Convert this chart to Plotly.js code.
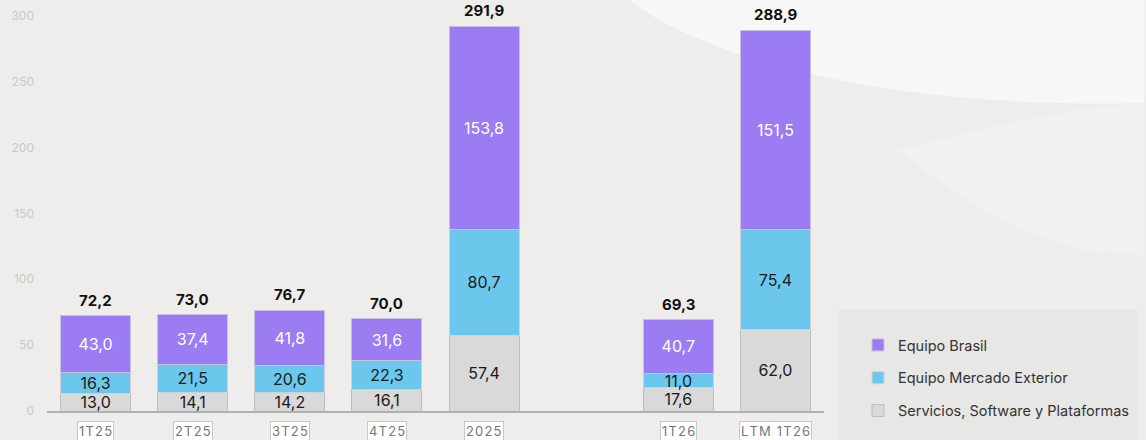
<!DOCTYPE html>
<html>
<head>
<meta charset="utf-8">
<script src="https://cdn.plot.ly/plotly-3.0.1.min.js"></script>
<style>html,body{margin:0;padding:0;background:#eeedeb;}#chart{width:1146px;height:440px;}</style>
</head>
<body>
<div id="chart"></div>
<script>
// Categories (the blank one is the visual gap between 2025 and 1T26)
const categories = ['1T25', '2T25', '3T25', '4T25', '2025', ' ', '1T26', 'LTM 1T26'];
const servicios  = [13.0, 14.1, 14.2, 16.1, 57.4, null, 17.6, 62.0];
const exterior   = [16.3, 21.5, 20.6, 22.3, 80.7, null, 11.0, 75.4];
const brasil     = [43.0, 37.4, 41.8, 31.6, 153.8, null, 40.7, 151.5];
const totals     = [72.2, 73.0, 76.7, 70.0, 291.9, null, 69.3, 288.9];
const seriesNames = ['Servicios, Software y Plataformas', 'Equipo Mercado Exterior', 'Equipo Brasil'];
const yTicks = [0, 50, 100, 150, 200, 250, 300];

const fmt = v => (v === null ? '' : v.toFixed(1).replace('.', ','));
const FONT = 'Inter, "Open Sans", sans-serif';
const spaced = s => s.split('').join('\u200A');

function barTrace(name, values, color, textColor, lineColor, group, rank) {
  return {
    type: 'bar', name: name, x: categories, y: values, legendgroup: group, legendrank: rank,
    text: values.map(fmt), textposition: 'inside', insidetextanchor: 'middle',
    textangle: 0, constraintext: 'none', cliponaxis: false,
    textfont: {family: FONT, size: 16, color: textColor},
    marker: {color: color, line: {color: lineColor, width: 1}},
    hoverinfo: 'skip'
  };
}

const data = [
  barTrace(seriesNames[0], servicios, '#d9d9d9', '#1a1a1a', '#bdbdbd', 'g0', 3),
  barTrace(seriesNames[1], exterior, '#6bc8ec', '#1a1a1a', '#c8d4dc', 'g1', 2),
  barTrace(seriesNames[2], brasil, '#9b7cf3', '#ffffff', '#c8c0e0', 'g2', 1)
];

const annotations = [];
categories.forEach((c, i) => {
  if (totals[i] === null) return;
  annotations.push({
    x: i, y: totals[i], xref: 'x', yref: 'y', text: '<b>' + fmt(totals[i]) + '</b>',
    showarrow: false, yanchor: 'bottom', yshift: 4,
    font: {family: FONT, size: 15, color: '#111111'}
  });
  annotations.push({
    x: i, y: 0, xref: 'x', yref: 'paper', text: spaced(c),
    showarrow: false, yanchor: 'top', yshift: -10,
    font: {family: FONT, size: 13, color: '#777777'},
    bgcolor: '#ffffff', bordercolor: '#c8c8c8', borderwidth: 1, borderpad: 1
  });
});

// decorative background swooshes and legend panel (paper coordinates)
const TOP = 15, BOT = 411;
const px = x => ((x - 47) / 778).toFixed(4);
const py = y => ((BOT - y) / (BOT - TOP)).toFixed(4);
const shapes = [
  {type: 'path', xref: 'paper', yref: 'paper', layer: 'below', line: {width: 0},
   fillcolor: 'rgba(255,255,255,0.55)',
   path: `M ${px(630)},${py(0)} C ${px(700)},${py(55)} ${px(880)},${py(110)} ${px(1146)},${py(103)} L ${px(1146)},${py(0)} Z`},
  {type: 'path', xref: 'paper', yref: 'paper', layer: 'below', line: {width: 0},
   fillcolor: 'rgba(255,255,255,0.25)',
   path: `M ${px(900)},${py(150)} C ${px(980)},${py(215)} ${px(1050)},${py(255)} ${px(1146)},${py(255)} L ${px(1146)},${py(103)} C ${px(1050)},${py(110)} ${px(980)},${py(130)} ${px(900)},${py(150)} Z`},
  {type: 'rect', xref: 'paper', yref: 'paper', layer: 'below',
   x0: px(840), x1: px(1138), y0: py(310), y1: py(446),
   fillcolor: 'rgba(228,228,227,0.75)', line: {color: '#e6e6e6', width: 1}}
];

const layout = {
  width: 1146, height: 440,
  margin: {l: 47, r: 321, t: TOP, b: 440 - BOT},
  paper_bgcolor: '#eeedeb', plot_bgcolor: 'rgba(0,0,0,0)',
  barmode: 'stack', bargap: 0.28,
  showlegend: true,
  legend: {
    x: px(858), y: py(329), xanchor: 'left', yanchor: 'top',
    traceorder: 'grouped', bgcolor: 'rgba(0,0,0,0)', borderwidth: 0,
    font: {family: FONT, size: 14.5, color: '#333333'},
    tracegroupgap: 11, itemwidth: 30
  },
  xaxis: {
    type: 'category', categoryorder: 'array', categoryarray: categories,
    range: [-0.5, categories.length - 0.5],
    showticklabels: false, ticks: '', showgrid: false,
    showline: true, linecolor: '#b0b0b0', linewidth: 1.5, zeroline: false, fixedrange: true
  },
  yaxis: {
    range: [0, 300.5], tickvals: yTicks, ticktext: yTicks.map(String),
    showgrid: false, zeroline: false, showline: false, ticks: '',
    ticklabelstandoff: 12,
    tickfont: {family: FONT, size: 12, color: '#c9c9c9'}, fixedrange: true
  },
  annotations: annotations,
  shapes: shapes
};

Plotly.newPlot('chart', data, layout, {displayModeBar: false, staticPlot: true});
</script>
</body>
</html>
